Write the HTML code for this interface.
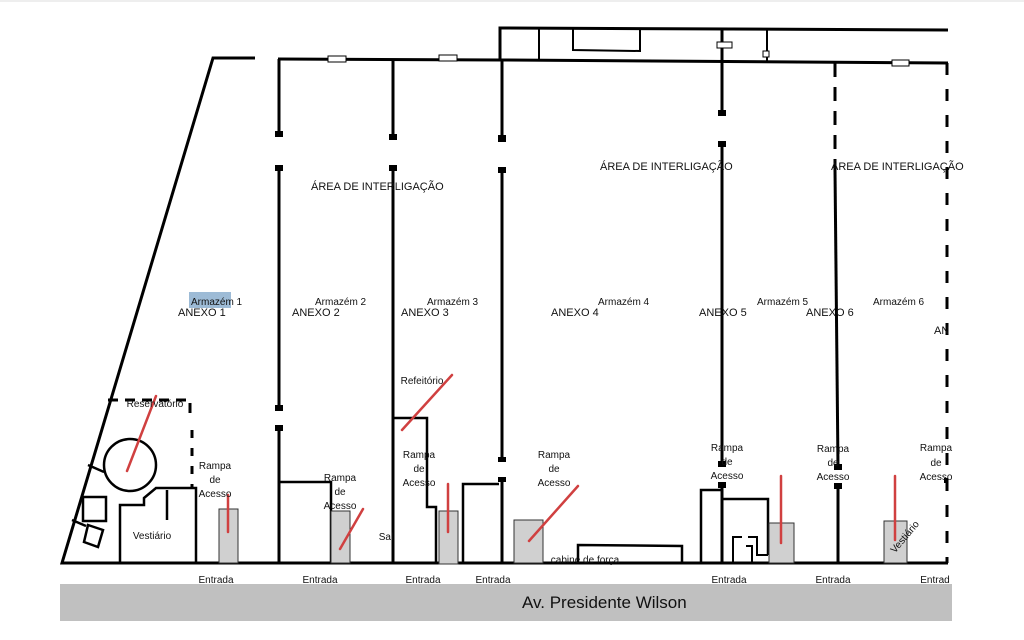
<!DOCTYPE html>
<html><head><meta charset="utf-8"><style>
html,body{margin:0;padding:0;background:#fff;width:1024px;height:640px;overflow:hidden}
svg text{font-family:"Liberation Sans",sans-serif;fill:#111}
</style></head><body>
<svg width="1024" height="640" viewBox="0 0 1024 640" xmlns="http://www.w3.org/2000/svg">
<rect width="1024" height="640" fill="#fff"/>
<line x1="0" y1="1" x2="1024" y2="1" stroke="#ddd" stroke-width="1"/>
<!-- gray street -->
<rect x="60" y="584" width="892" height="37" fill="#c0c0c0"/>
<text x="522" y="608" font-size="17">Av. Presidente Wilson</text>
<g stroke="#000" stroke-width="3" fill="none">
<!-- outer walls -->
<polyline points="255,58 213,58 62,563 948,563"/>
<line x1="278" y1="59" x2="500" y2="60"/>
<polyline points="500,60 500,28 948,30"/>
<line x1="500" y1="60" x2="948" y2="63"/>
<line x1="539" y1="29" x2="539" y2="60" stroke-width="2"/>
<polyline points="573,29 573,50 640,51 640,29" stroke-width="2"/>
<line x1="767" y1="30" x2="767" y2="62" stroke-width="2"/>
<!-- vertical walls -->
<line x1="279" y1="59" x2="279" y2="135"/>
<line x1="279" y1="168" x2="279" y2="408"/>
<line x1="279" y1="428" x2="279" y2="563"/>
<line x1="393" y1="60" x2="393" y2="137"/>
<line x1="393" y1="167" x2="393" y2="563"/>
<line x1="502" y1="60" x2="502" y2="138"/>
<line x1="502" y1="170" x2="502" y2="460"/>
<line x1="502" y1="479" x2="502" y2="563"/>
<line x1="722" y1="30" x2="722" y2="113"/>
<line x1="722" y1="141" x2="722" y2="464"/>
<line x1="722" y1="485" x2="722" y2="563"/>
<line x1="835" y1="63" x2="835" y2="170" stroke-dasharray="14,10"/>
<line x1="835" y1="170" x2="838" y2="467"/>
<line x1="838" y1="487" x2="838" y2="563"/>
<line x1="947" y1="63" x2="947" y2="563" stroke-dasharray="12,14"/>
<!-- ANEXO1 area -->
<circle cx="130" cy="465" r="26" stroke-width="2.5"/>
<polyline points="108,400 190,400 190,420" stroke-dasharray="10,7"/>
<line x1="192" y1="430" x2="192" y2="488" stroke-dasharray="8,10"/>
<polyline points="120,563 120,505 144,505 144,498 156,488 196,488 196,563" stroke-width="2.5"/>
<line x1="167" y1="490" x2="167" y2="520" stroke-width="2.5"/>
<rect x="83" y="497" width="23" height="24" stroke-width="2.5"/>
<polygon points="88,525 103,530 98,547 84,542" stroke-width="2.5"/>
<line x1="88" y1="465" x2="104" y2="472" stroke-width="2.5"/>
<line x1="72" y1="520" x2="86" y2="526" stroke-width="2.5"/>
<!-- annex 2 -->
<polyline points="279,482 331,482 331,563" stroke-width="2.5"/>
<!-- refeitorio -->
<polyline points="393,418 427,418 427,507 436,507 436,563" stroke-width="2.5"/>
<!-- annex 3/4 -->
<polyline points="463,563 463,484 499,484" stroke-width="2.5"/>
<!-- cabine -->
<polyline points="578,563 578,545 682,546 682,563" stroke-width="2.5"/>
<!-- annex 5 -->
<polyline points="701,563 701,490 722,490" stroke-width="2.5"/>
<polyline points="722,499 768,499 768,555" stroke-width="2.5"/>
<polyline points="733,563 733,537 742,537" stroke-width="2"/>
<polyline points="748,537 757,537 757,555 768,555" stroke-width="2"/>
<polyline points="746,546 752,546 752,563" stroke-width="2"/>
</g>
<!-- wall end squares -->
<g fill="#000">
<rect x="275" y="131" width="8" height="6"/><rect x="275" y="165" width="8" height="6"/>
<rect x="275" y="405" width="8" height="6"/><rect x="275" y="425" width="8" height="6"/>
<rect x="389" y="134" width="8" height="6"/><rect x="389" y="165" width="8" height="6"/>
<rect x="498" y="135" width="8" height="7"/><rect x="498" y="167" width="8" height="6"/>
<rect x="498" y="457" width="8" height="5"/><rect x="498" y="477" width="8" height="5"/>
<rect x="718" y="110" width="8" height="6"/><rect x="718" y="141" width="8" height="6"/>
<rect x="718" y="461" width="8" height="6"/><rect x="718" y="482" width="8" height="6"/>
<rect x="834" y="464" width="8" height="6"/><rect x="834" y="483" width="8" height="6"/>
<rect x="944" y="478" width="4" height="5"/>
</g>
<!-- small window rects -->
<g fill="#fff" stroke="#000" stroke-width="1">
<rect x="328" y="56" width="18" height="6"/><rect x="439" y="55" width="18" height="6"/>
<rect x="717" y="42" width="15" height="6"/><rect x="763" y="51" width="6" height="6"/>
<rect x="892" y="60" width="17" height="6"/>
</g>
<!-- gray ramps -->
<g fill="#d0d0d0" stroke="#333" stroke-width="1">
<rect x="219" y="509" width="19" height="54"/>
<rect x="331" y="511" width="19" height="52"/>
<rect x="439" y="511" width="19" height="53"/>
<rect x="514" y="520" width="29" height="43"/>
<rect x="769" y="523" width="25" height="40"/>
<rect x="884" y="521" width="23" height="42"/>
</g>
<!-- red marks -->
<g stroke="#d04040" stroke-width="2.5" stroke-linecap="round">
<line x1="156" y1="396" x2="127" y2="471"/>
<line x1="228" y1="495" x2="228" y2="532"/>
<line x1="363" y1="509" x2="340" y2="549"/>
<line x1="452" y1="375" x2="402" y2="430"/>
<line x1="448" y1="484" x2="448" y2="532"/>
<line x1="578" y1="486" x2="529" y2="541"/>
<line x1="781" y1="476" x2="781" y2="543"/>
<line x1="895" y1="476" x2="895" y2="540"/>
</g>
<rect x="189" y="292" width="42" height="16" fill="#9dbbd6"/>
<g font-size="10">
<text x="191" y="305">Armazém 1</text>
<text x="315" y="305">Armazém 2</text>
<text x="427" y="305">Armazém 3</text>
<text x="598" y="305">Armazém 4</text>
<text x="757" y="305">Armazém 5</text>
<text x="873" y="305">Armazém 6</text>
<text x="600" y="170" font-size="11">ÁREA DE INTERLIGAÇÃO</text>
<text x="831" y="170" font-size="11">ÁREA DE INTERLIGAÇÃO</text>
<text x="311" y="190" font-size="11">ÁREA DE INTERLIGAÇÃO</text>
</g>
<g font-size="11">
<text x="178" y="316">ANEXO 1</text>
<text x="292" y="316">ANEXO 2</text>
<text x="401" y="316">ANEXO 3</text>
<text x="551" y="316">ANEXO 4</text>
<text x="699" y="316">ANEXO 5</text>
<text x="806" y="316">ANEXO 6</text>
<text x="934" y="334">AN</text>
</g>
<g font-size="10" text-anchor="middle">
<text x="155" y="407">Reservatório</text>
<text x="215" y="469">Rampa</text><text x="215" y="483">de</text><text x="215" y="497">Acesso</text>
<text x="340" y="481">Rampa</text><text x="340" y="495">de</text><text x="340" y="509">Acesso</text>
<text x="419" y="458">Rampa</text><text x="419" y="472">de</text><text x="419" y="486">Acesso</text>
<text x="554" y="458">Rampa</text><text x="554" y="472">de</text><text x="554" y="486">Acesso</text>
<text x="727" y="451">Rampa</text><text x="727" y="465">de</text><text x="727" y="479">Acesso</text>
<text x="833" y="452">Rampa</text><text x="833" y="466">de</text><text x="833" y="480">Acesso</text>
<text x="936" y="451">Rampa</text><text x="936" y="466">de</text><text x="936" y="480">Acesso</text>
<text x="152" y="539">Vestiário</text>
<text x="422" y="384">Refeitório</text>
<text x="386" y="540">Sal</text>
<text x="585" y="563">cabine de força</text>
<text x="216" y="583">Entrada</text>
<text x="320" y="583">Entrada</text>
<text x="423" y="583">Entrada</text>
<text x="493" y="583">Entrada</text>
<text x="729" y="583">Entrada</text>
<text x="833" y="583">Entrada</text>
<text x="935" y="583">Entrad</text>
<text x="905" y="540" transform="rotate(-50 905 537)">Vestiário</text>
</g>
</svg>
</body></html>
